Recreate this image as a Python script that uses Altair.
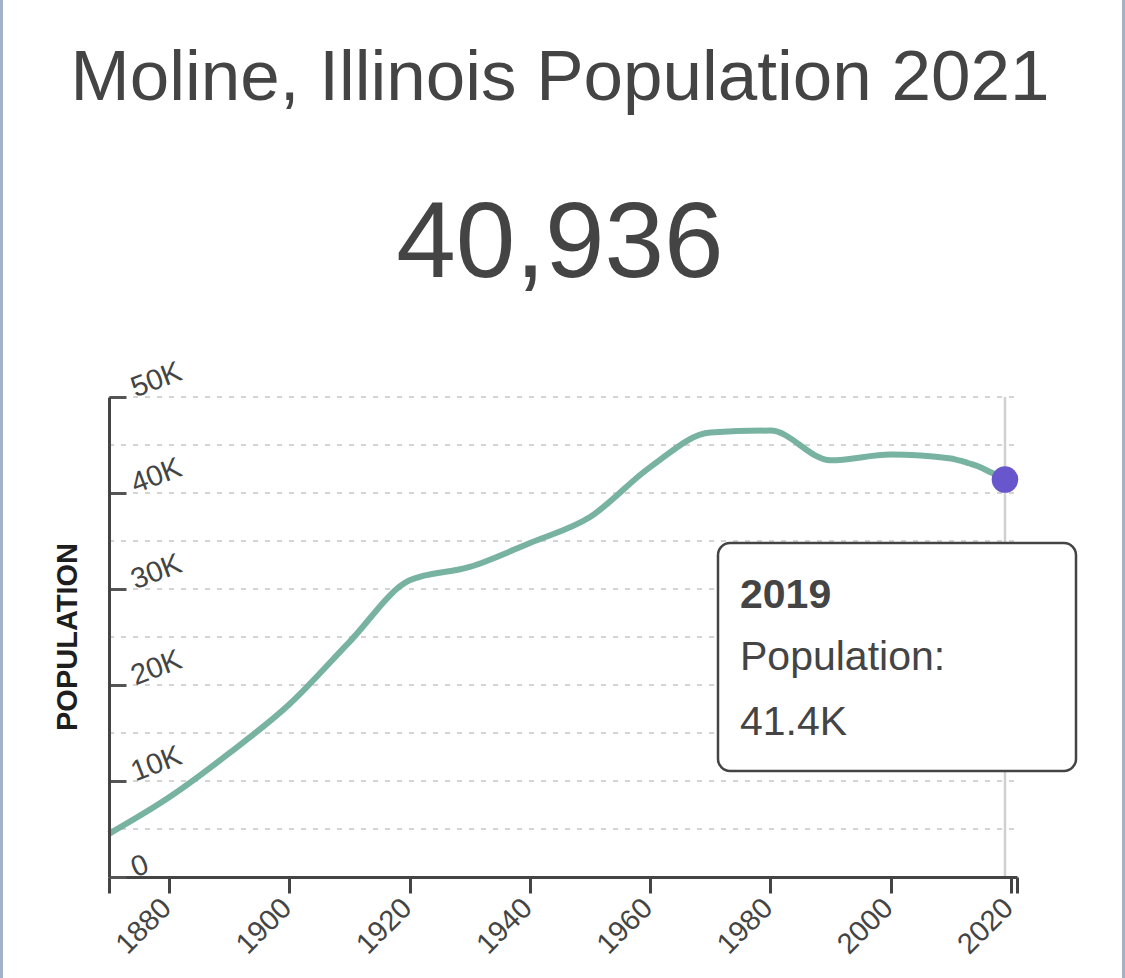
import altair as alt
import pandas as pd

# ---- data ----
years = [1870, 1880, 1890, 1900, 1910, 1920, 1930, 1940, 1950, 1960, 1970, 1980,
         1990, 2000, 2010, 2011, 2012, 2013, 2014, 2015, 2016, 2017, 2018, 2019]
population = [4500, 8300, 12900, 18000, 24500, 30900, 32300, 34800, 37500, 42700,
              46300, 46500, 43400, 44000, 43600, 43450, 43300, 43100, 42900, 42650,
              42350, 42050, 41750, 41400]
grid_values = [5000, 10000, 15000, 20000, 25000, 30000, 35000, 40000, 45000, 50000]
y_tick_values = [0, 10000, 20000, 30000, 40000, 50000]
x_tick_values = [1870, 1880, 1900, 1920, 1940, 1960, 1980, 2000, 2020, 2021]
highlight_year = [2019]
highlight_value = [41400]
title_text = "Moline, Illinois Population 2021"
headline_text = "40,936"
tooltip_lines = ["2019", "Population:", "41.4K"]

W, H = 908, 480
FONT = "Liberation Sans"
DARK = "#444444"

df = pd.DataFrame({"year": years, "pop": population})
grid_df = pd.DataFrame({"year": [1870] * len(grid_values), "pop": grid_values})
hl_df = pd.DataFrame({"year": highlight_year, "pop": highlight_value})

xscale = alt.Scale(domain=[1870, 2021], nice=False, zero=False)
yscale = alt.Scale(domain=[0, 50000], nice=False, zero=True)

x_axis = alt.Axis(
    values=x_tick_values, format="d",
    labelExpr="(datum.value % 20 == 0 && datum.value >= 1880 && datum.value <= 2020) ? datum.label : ''",
    labelAngle=-45, labelAlign="right", labelBaseline="middle", labelPadding=10,
    labelOffset=-3, labelFontSize=29, labelFont=FONT, labelColor=DARK,
    labelOverlap=False, labelBound=False, labelFlush=False,
    tickSize=16, tickWidth=3, tickColor=DARK, domainColor=DARK, domainWidth=3,
    grid=False, title=None, zindex=1,
)
y_axis = alt.Axis(
    orient="right", offset=-W, values=y_tick_values,
    labelExpr="datum.value == 0 ? '0' : (datum.value / 1000) + 'K'",
    labelAngle=-21, labelAlign="left", labelBaseline="alphabetic", labelPadding=9,
    labelFontSize=29, labelFont=FONT, labelColor=DARK,
    labelOverlap=False, labelBound=False, labelFlush=False,
    tickSize=17, tickWidth=3, tickColor="#555555", domainColor=DARK, domainWidth=3,
    grid=False, title=None, zindex=1,
)

X = alt.X("year:Q", scale=xscale, axis=x_axis)
Y = alt.Y("pop:Q", scale=yscale, axis=y_axis)

grid = alt.Chart(grid_df).mark_rule(color="#d4d4d4", strokeWidth=2, strokeDash=[5, 7]).encode(
    y=Y, x=alt.value(0), x2=alt.value(W),
)

vline = alt.Chart(hl_df).mark_rule(color="#d0d0d0", strokeWidth=2.5).encode(
    x=X, y=alt.value(0), y2=alt.value(H),
)

line = alt.Chart(df).mark_line(color="#78b3a1", strokeWidth=6, interpolate="monotone").encode(
    x=X, y=Y,
)

point = alt.Chart(hl_df).mark_circle(color="#6857cc", opacity=1, size=707).encode(
    x=X, y=Y,
)

title = alt.Chart(pd.DataFrame({"t": [title_text]})).mark_text(
    font=FONT, fontSize=71, color=DARK, align="center", baseline="alphabetic"
).encode(text="t:N", x=alt.value(451), y=alt.value(-297))

headline = alt.Chart(pd.DataFrame({"t": [headline_text]})).mark_text(
    font=FONT, fontSize=107, color=DARK, align="center", baseline="alphabetic"
).encode(text="t:N", x=alt.value(451), y=alt.value(-120))

ytitle = alt.Chart(pd.DataFrame({"t": ["POPULATION"]})).mark_text(
    font=FONT, fontSize=29, fontWeight="bold", color="#1e1e1e", align="center",
    baseline="middle", angle=270
).encode(text="t:N", x=alt.value(-41), y=alt.value(240))

tip_box = alt.Chart(pd.DataFrame({"a": [0]})).mark_rect(
    fill="white", stroke=DARK, strokeWidth=2.5, cornerRadius=12
).encode(x=alt.value(609), x2=alt.value(967), y=alt.value(146), y2=alt.value(374))

tip_title = alt.Chart(pd.DataFrame({"t": [tooltip_lines[0]]})).mark_text(
    font=FONT, fontSize=41, fontWeight="bold", color=DARK, align="left", baseline="alphabetic"
).encode(text="t:N", x=alt.value(631), y=alt.value(211))

tip_l2 = alt.Chart(pd.DataFrame({"t": [tooltip_lines[1]]})).mark_text(
    font=FONT, fontSize=41, color=DARK, align="left", baseline="alphabetic"
).encode(text="t:N", x=alt.value(631), y=alt.value(273))

tip_l3 = alt.Chart(pd.DataFrame({"t": [tooltip_lines[2]]})).mark_text(
    font=FONT, fontSize=41, color=DARK, align="left", baseline="alphabetic"
).encode(text="t:N", x=alt.value(631), y=alt.value(338))

border_l = alt.Chart(pd.DataFrame({"a": [0]})).mark_rect(color="#a3b2c8").encode(
    x=alt.value(-109), x2=alt.value(-106), y=alt.value(-397), y2=alt.value(581))
border_r = alt.Chart(pd.DataFrame({"a": [0]})).mark_rect(color="#a3b2c8").encode(
    x=alt.value(1013), x2=alt.value(1016), y=alt.value(-397), y2=alt.value(581))

chart = alt.layer(
    grid, vline, line, point, title, headline, ytitle,
    tip_box, tip_title, tip_l2, tip_l3, border_l, border_r,
).properties(
    width=W, height=H,
    autosize=alt.AutoSizeParams(type="none"),
    padding={"left": 109, "top": 397, "right": 108, "bottom": 101},
    background="white",
).configure_view(stroke=None)

chart.save("out.html", embed_options={"renderer": "svg", "actions": False})
